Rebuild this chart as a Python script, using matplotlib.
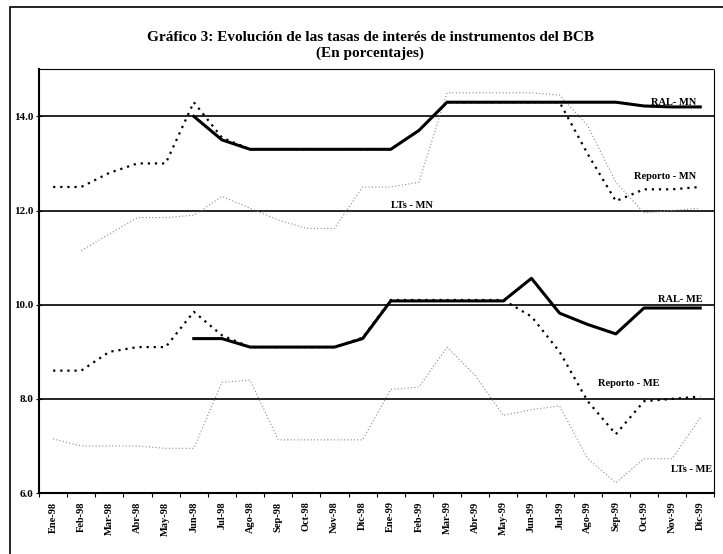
import numpy as np
import matplotlib.pyplot as plt
from matplotlib.patches import Rectangle

nan = np.nan

meses = ['Ene-98', 'Feb-98', 'Mar-98', 'Abr-98', 'May-98', 'Jun-98', 'Jul-98', 'Ago-98',
         'Sep-98', 'Oct-98', 'Nov-98', 'Dic-98', 'Ene-99', 'Feb-99', 'Mar-99', 'Abr-99',
         'May-99', 'Jun-99', 'Jul-99', 'Ago-99', 'Sep-99', 'Oct-99', 'Nov-99', 'Dic-99']

# tasas en moneda nacional (MN)
ral_mn = [nan, nan, nan, nan, nan, 14.0, 13.5, 13.3, 13.3, 13.3, 13.3, 13.3,
          13.3, 13.7, 14.3, 14.3, 14.3, 14.3, 14.3, 14.3, 14.3, 14.22, 14.2, 14.2]
reporto_mn = [12.5, 12.5, 12.8, 13.0, 13.0, 14.3, 13.55, 13.3, 13.3, 13.3, 13.3, 13.3,
              13.3, 13.7, 14.3, 14.3, 14.3, 14.3, 14.3, 13.2, 12.2, 12.45, 12.45, 12.5]
lts_mn = [nan, 11.15, 11.5, 11.85, 11.85, 11.9, 12.3, 12.05, 11.8, 11.62, 11.62, 12.5,
          12.5, 12.6, 14.5, 14.5, 14.5, 14.5, 14.45, 13.8, 12.6, 11.95, 12.0, 12.05]

# tasas en moneda extranjera (ME)
ral_me = [nan, nan, nan, nan, nan, 9.28, 9.28, 9.1, 9.1, 9.1, 9.1, 9.28,
          10.08, 10.08, 10.08, 10.08, 10.08, 10.56, 9.82, 9.58, 9.38, 9.93, 9.93, 9.93]
reporto_me = [8.6, 8.6, 9.0, 9.1, 9.1, 9.85, 9.35, 9.1, 9.1, 9.1, 9.1, 9.3,
              10.1, 10.1, 10.1, 10.1, 10.1, 9.75, 9.0, 7.95, 7.25, 7.95, 8.0, 8.05]
lts_me = [7.15, 7.0, 7.0, 7.0, 6.95, 6.95, 8.35, 8.4, 7.13, 7.13, 7.13, 7.13,
          8.2, 8.25, 9.1, 8.5, 7.65, 7.77, 7.85, 6.73, 6.22, 6.73, 6.73, 7.6]

serif = ['Liberation Serif', 'DejaVu Serif']
x = np.arange(len(meses))

fig = plt.figure(figsize=(7.23, 5.54), dpi=100)
ax = fig.add_axes([0.054, 0.110, 0.934, 0.765])

for y in [8, 10, 12, 14]:
    ax.axhline(y, color='black', lw=1.2, zorder=1)

ax.plot(x, lts_mn, color='#8a8a8a', lw=0.8, linestyle=(0, (1, 2)), zorder=2)
ax.plot(x, lts_me, color='#8a8a8a', lw=0.8, linestyle=(0, (1, 2)), zorder=2)
ax.plot(x, reporto_mn, color='black', lw=1.6, linestyle=(0, (1, 2.2)), zorder=3)
ax.plot(x, reporto_me, color='black', lw=1.6, linestyle=(0, (1, 2.2)), zorder=3)
ax.plot(x, ral_mn, color='black', lw=2.2, zorder=4)
ax.plot(x, ral_me, color='black', lw=2.2, zorder=4)

etiquetas = [('RAL- MN', 22.05, 14.3), ('Reporto - MN', 21.75, 12.73),
             ('LTs - MN', 12.75, 12.11), ('RAL- ME', 22.3, 10.12),
             ('Reporto - ME', 20.45, 8.33), ('LTs - ME', 22.7, 6.49)]
for txt, tx, ty in etiquetas:
    ax.text(tx, ty, txt, ha='center', va='center', fontsize=7.5,
            fontweight='bold', family=serif, zorder=5)

ax.set_xlim(-0.5, len(meses) - 0.5)
ax.set_ylim(6, 15)
ax.set_yticks([6, 8, 10, 12, 14])
ax.set_yticklabels([f'{v:.1f}' for v in [6, 8, 10, 12, 14]],
                   fontsize=8, fontweight='bold', family=serif)
ax.set_xticks(x)
ax.set_xticklabels(meses, rotation=90, fontsize=7.5, fontweight='bold', family=serif)
ax.set_xticks(np.arange(len(meses) + 1) - 0.5, minor=True)
ax.tick_params(axis='x', which='major', length=0, pad=6)
ax.tick_params(axis='x', which='minor', length=3, direction='out', width=0.8)
ax.tick_params(axis='y', length=4, direction='inout', width=0.8, pad=2)

ax.spines['left'].set_linewidth(1.5)
ax.spines['bottom'].set_linewidth(1.5)
for s in ['top', 'right']:
    ax.spines[s].set_linestyle((0, (1, 1)))
    ax.spines[s].set_linewidth(0.8)

fig.text(0.512, 0.933, 'Gráfico 3: Evolución de las tasas de interés de instrumentos del BCB',
         ha='center', va='center', fontsize=11, fontweight='bold', family=serif)
fig.text(0.512, 0.903, '(En porcentajes)', ha='center', va='center',
         fontsize=11, fontweight='bold', family=serif)

fig.patches.append(Rectangle((0.014, -0.01), 0.99, 0.997, transform=fig.transFigure,
                             fill=False, edgecolor='black', lw=1.2))

plt.savefig('out.png', dpi=100)
